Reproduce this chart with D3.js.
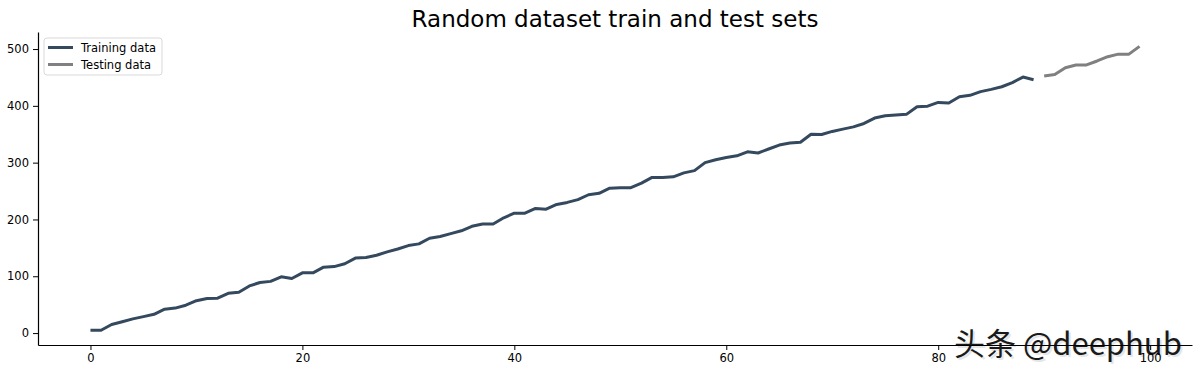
<!DOCTYPE html>
<html><head><meta charset="utf-8">
<script src="https://cdn.jsdelivr.net/npm/d3@7"></script>
<style>body{margin:0;background:#fff}svg{display:block}</style>
</head><body>
<svg id="c" width="1200" height="372"></svg>
<script>
const title = "Random dataset train and test sets";
const trainX = d3.range(0, 90);
const trainY = [5,5,15,20,25,29,33,42,44,49,57,61,61.5,70,72,83,89,91,99,96,
  106,106,116,117,122,132,133,137,143,148,154,157,167,170,175,180,188,192,192,203,
  211,211,219.5,218,226.5,230,235,243.5,246,255,256,256,264,274,274,275,282,286,300,305,
  309,312,319,317,324,331,334.5,336,350,349.5,355,359,363,369,378.5,382.5,384,385,398.5,399.5,
  406,405,416,418.5,425,429,433.6,441,450.7,446];
const testX = d3.range(90, 100);
const testY = [452.5,455,467,472,472,479,486.5,491,491,504.7];
const xTicks = [0,20,40,60,80,100];
const yTicks = [0,100,200,300,400,500];
const seriesNames = ["Training data","Testing data"];
const colors = ["#34495e","#808080"];
const watermark = "头条 @deephub";

const svg = d3.select("#c");
const L = 38, R = 1192, T = 32, B = 345;
const x = d3.scaleLinear().domain([-4.95, 103.95]).range([L, R]);
const y = d3.scaleLinear().domain([-21, 530]).range([B, T]);

// watermark (drawn beneath the axes so tick labels stay visible)
const wm = svg.append("g");
wm.append("text").attr("x", 956).attr("y", 357).attr("font-family", "Noto Sans CJK SC")
  .attr("font-size", 31).attr("fill", "#e6e6e6").text(watermark);
wm.append("text").attr("x", 954).attr("y", 355).attr("font-family", "Noto Sans CJK SC")
  .attr("font-size", 31).attr("fill", "#1a1a1a").text(watermark);

// axes
const xa = svg.append("g").attr("transform", `translate(0,${B})`)
  .call(d3.axisBottom(x).tickValues(xTicks).tickSize(5).tickSizeOuter(0).tickPadding(4));
const ya = svg.append("g").attr("transform", `translate(${L},0)`)
  .call(d3.axisLeft(y).tickValues(yTicks).tickSize(5).tickSizeOuter(0).tickPadding(4));
[xa, ya].forEach(a => {
  a.select(".domain").attr("stroke", "#000").attr("stroke-width", 1.2);
  a.selectAll(".tick line").attr("stroke", "#000").attr("stroke-width", 1);
  a.selectAll("text").attr("font-family", "DejaVu Sans").attr("font-size", 11.5).attr("fill", "#000");
});

const line = d3.line().x(d => x(d[0])).y(d => y(d[1]));
svg.append("path").datum(trainX.map((v, i) => [v, trainY[i]]))
  .attr("d", line).attr("fill", "none").attr("stroke", colors[0])
  .attr("stroke-width", 3).attr("stroke-linejoin", "round");
svg.append("path").datum(testX.map((v, i) => [v, testY[i]]))
  .attr("d", line).attr("fill", "none").attr("stroke", colors[1])
  .attr("stroke-width", 3).attr("stroke-linejoin", "round");

// title
svg.append("text").attr("x", 615).attr("y", 27).attr("text-anchor", "middle")
  .attr("font-family", "DejaVu Sans").attr("font-size", 23).attr("fill", "#000").text(title);

// legend
const lg = svg.append("g").attr("transform", "translate(44,38)");
lg.append("rect").attr("width", 118).attr("height", 37).attr("rx", 3)
  .attr("fill", "#fff").attr("fill-opacity", 0.8).attr("stroke", "#d9d9d9");
seriesNames.forEach((n, i) => {
  lg.append("line").attr("x1", 4).attr("x2", 29).attr("y1", 9.5 + i * 17).attr("y2", 9.5 + i * 17)
    .attr("stroke", colors[i]).attr("stroke-width", 3);
  lg.append("text").attr("x", 37).attr("y", 13.5 + i * 17).attr("font-family", "DejaVu Sans")
    .attr("font-size", 11.5).attr("fill", "#000").text(n);
});
</script>
</body></html>
